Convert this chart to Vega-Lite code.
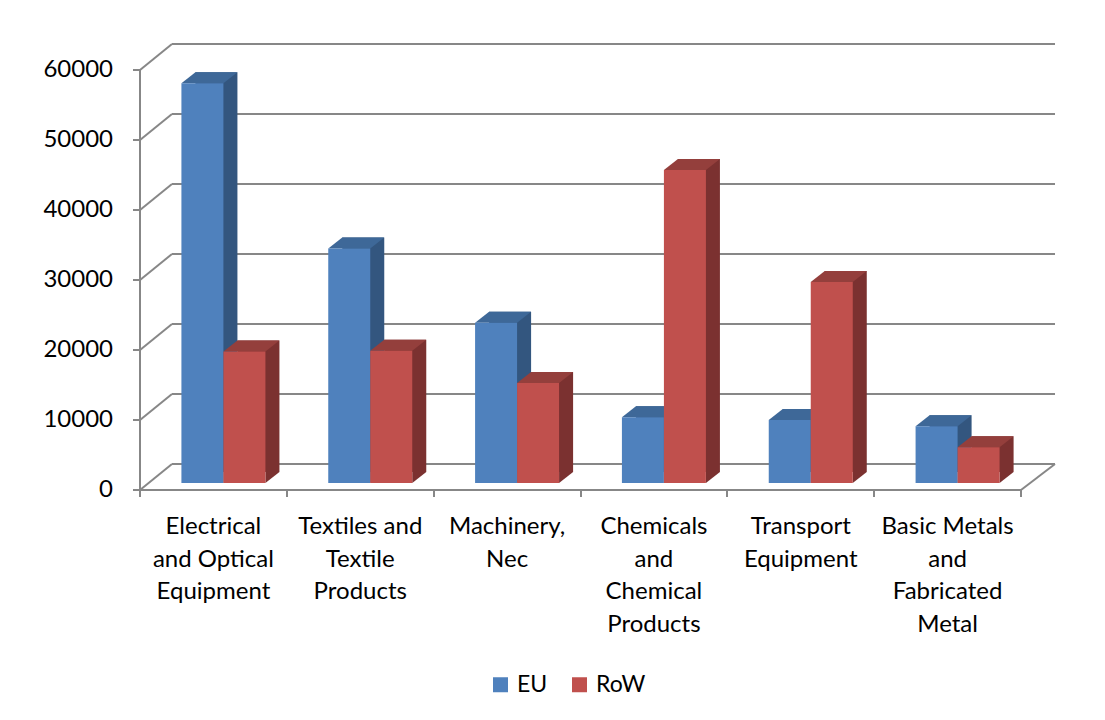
{
  "$schema": "https://vega.github.io/schema/vega-lite/v6.json",
  "width": 881,
  "height": 420,
  "autosize": "none",
  "padding": {"left": 150, "top": 63, "right": 74, "bottom": 237},
  "background": "white",
  "config": {"view": {"stroke": null}, "font": "Lato"},
  "datasets": {
    "trade": [
      {"sector": "Electrical and Optical Equipment", "region": "EU", "value": 57100},
      {"sector": "Electrical and Optical Equipment", "region": "RoW", "value": 18800},
      {"sector": "Textiles and Textile Products", "region": "EU", "value": 33500},
      {"sector": "Textiles and Textile Products", "region": "RoW", "value": 18900},
      {"sector": "Machinery, Nec", "region": "EU", "value": 22900},
      {"sector": "Machinery, Nec", "region": "RoW", "value": 14300},
      {"sector": "Chemicals and Chemical Products", "region": "EU", "value": 9400},
      {"sector": "Chemicals and Chemical Products", "region": "RoW", "value": 44700},
      {"sector": "Transport Equipment", "region": "EU", "value": 9000},
      {"sector": "Transport Equipment", "region": "RoW", "value": 28700},
      {"sector": "Basic Metals and Fabricated Metal", "region": "EU", "value": 8100},
      {"sector": "Basic Metals and Fabricated Metal", "region": "RoW", "value": 5100}
    ],
    "ticks": [
      {"v": 0}, {"v": 10000}, {"v": 20000}, {"v": 30000}, {"v": 40000}, {"v": 50000}, {"v": 60000}
    ]
  },
  "resolve": {"scale": {"xOffset": "independent"}},
  "layer": [
    {
      "description": "invisible base layer carrying the front axes and legend",
      "data": {"name": "trade"},
      "mark": {"type": "bar", "opacity": 0},
      "encoding": {
        "x": {
          "field": "sector", "type": "nominal",
          "scale": {"domain": ["Electrical and Optical Equipment", "Textiles and Textile Products", "Machinery, Nec", "Chemicals and Chemical Products", "Transport Equipment", "Basic Metals and Fabricated Metal"], "paddingInner": 0, "paddingOuter": 0},
          "axis": {
            "title": null, "labelAngle": 0, "tickBand": "extent",
            "translate": -10, "offset": 17,
            "domainColor": "#878787", "domainWidth": 2, "tickColor": "#878787", "tickWidth": 2, "tickSize": 7,
            "labelFont": "Lato", "labelFontSize": 24, "labelColor": "#000000", "labelPadding": 18,
            "labelLineHeight": 32.5, "labelBaseline": "top", "labelLimit": 300,
            "labelExpr": "{'Electrical and Optical Equipment': ['Electrical', 'and Optical', 'Equipment'], 'Textiles and Textile Products': ['Textiles and', 'Textile', 'Products'], 'Machinery, Nec': ['Machinery,', 'Nec'], 'Chemicals and Chemical Products': ['Chemicals', 'and', 'Chemical', 'Products'], 'Transport Equipment': ['Transport', 'Equipment'], 'Basic Metals and Fabricated Metal': ['Basic Metals', 'and', 'Fabricated', 'Metal']}[datum.label]"
          }
        },
        "xOffset": {"field": "region", "type": "nominal", "scale": {"type": "band", "domain": ["EU", "RoW"], "paddingInner": 0, "paddingOuter": 0.748, "align": 0.5}},
        "y": {
          "field": "value", "type": "quantitative",
          "scale": {"domain": [0, 60000], "nice": false},
          "axis": {
            "title": null, "values": [0, 10000, 20000, 30000, 40000, 50000, 60000], "format": "d",
            "grid": false, "translate": 7, "offset": 17,
            "domainColor": "#878787", "domainWidth": 2, "tickColor": "#878787", "tickWidth": 2, "tickSize": 7,
            "labelFont": "Lato", "labelFontSize": 24, "labelColor": "#000000", "labelPadding": 20
          }
        },
        "color": {
          "field": "region", "type": "nominal",
          "scale": {"domain": ["EU", "RoW"], "range": ["#4f81bd", "#c0504d"]},
          "legend": {
            "title": null, "orient": "none", "legendX": 339, "legendY": 610, "direction": "horizontal",
            "symbolType": "square", "symbolSize": 225, "symbolStrokeWidth": 0, "symbolOpacity": 1,
            "labelFont": "Lato", "labelFontSize": 23, "labelColor": "#000000", "labelOffset": 5,
            "columnPadding": 20, "padding": 0
          }
        }
      }
    },
    {
      "description": "back wall gridlines",
      "data": {"name": "ticks"},
      "mark": {"type": "rule", "color": "#878787", "strokeWidth": 2, "xOffset": 22, "x2Offset": 24, "yOffset": -19, "y2Offset": -19},
      "encoding": {
        "x": {"datum": "Electrical and Optical Equipment", "type": "nominal", "bandPosition": 0},
        "x2": {"datum": "Basic Metals and Fabricated Metal", "bandPosition": 1},
        "y": {"field": "v", "type": "quantitative"},
        "y2": {"field": "v"}
      }
    },
    {
      "description": "side wall connectors from the front axis to the back wall",
      "data": {"name": "ticks"},
      "mark": {"type": "rule", "color": "#878787", "strokeWidth": 2, "xOffset": -10, "x2Offset": 22, "yOffset": 7, "y2Offset": -19},
      "encoding": {
        "x": {"datum": "Electrical and Optical Equipment", "type": "nominal", "bandPosition": 0},
        "x2": {"datum": "Electrical and Optical Equipment", "bandPosition": 0},
        "y": {"field": "v", "type": "quantitative"},
        "y2": {"field": "v"}
      }
    },
    {
      "description": "right edge of the floor",
      "data": {"name": "ticks"},
      "transform": [{"filter": "datum.v === 0"}],
      "mark": {"type": "rule", "color": "#878787", "strokeWidth": 2, "xOffset": -10, "x2Offset": 24, "yOffset": 7, "y2Offset": -19},
      "encoding": {
        "x": {"datum": "Basic Metals and Fabricated Metal", "type": "nominal", "bandPosition": 1},
        "x2": {"datum": "Basic Metals and Fabricated Metal", "bandPosition": 1},
        "y": {"field": "v", "type": "quantitative"},
        "y2": {"field": "v"}
      }
    },
    {
      "description": "bar side faces",
      "data": {"name": "trade"},
      "mark": {"type": "bar", "yOffset": -11, "y2Offset": -11},
      "encoding": {
        "x": {"field": "sector", "type": "nominal"},
        "xOffset": {"field": "region", "type": "nominal", "scale": {"type": "band", "domain": ["EU", "RoW"], "paddingInner": 0, "paddingOuter": 0.748, "align": 0.723}},
        "y": {"field": "value", "type": "quantitative"},
        "color": {"condition": {"test": "datum.region === 'EU'", "value": "#33567f"}, "value": "#7b3130"}
      }
    },
    {
      "description": "lower corner of each side face",
      "data": {"name": "trade"},
      "mark": {"type": "point", "filled": true, "opacity": 1, "strokeWidth": 0, "size": 4900, "shape": "M0.6,-0.3143L1,-0.3143L0.6,0Z"},
      "encoding": {
        "x": {"field": "sector", "type": "nominal"},
        "xOffset": {"field": "region", "type": "nominal", "scale": {"type": "band", "domain": ["EU", "RoW"], "paddingInner": 0, "paddingOuter": 0.748, "align": 0.5}},
        "y": {"datum": 0, "type": "quantitative"},
        "color": {"condition": {"test": "datum.region === 'EU'", "value": "#33567f"}, "value": "#7b3130"}
      }
    },
    {
      "description": "bar top faces",
      "data": {"name": "trade"},
      "mark": {"type": "point", "filled": true, "opacity": 1, "strokeWidth": 0, "size": 4900, "shape": "M-0.6,0L-0.2,-0.3143L1,-0.3143L0.6,0Z"},
      "encoding": {
        "x": {"field": "sector", "type": "nominal"},
        "xOffset": {"field": "region", "type": "nominal", "scale": {"type": "band", "domain": ["EU", "RoW"], "paddingInner": 0, "paddingOuter": 0.748, "align": 0.5}},
        "y": {"field": "value", "type": "quantitative"},
        "color": {"condition": {"test": "datum.region === 'EU'", "value": "#3e6898"}, "value": "#943f3c"}
      }
    },
    {
      "description": "bar front faces drawn over the sides and tops",
      "data": {"name": "trade"},
      "mark": {"type": "bar"},
      "encoding": {
        "x": {"field": "sector", "type": "nominal"},
        "xOffset": {"field": "region", "type": "nominal", "scale": {"type": "band", "domain": ["EU", "RoW"], "paddingInner": 0, "paddingOuter": 0.748, "align": 0.5}},
        "y": {"field": "value", "type": "quantitative"},
        "color": {"condition": {"test": "datum.region === 'EU'", "value": "#4f81bd"}, "value": "#c0504d"}
      }
    }
  ]
}
